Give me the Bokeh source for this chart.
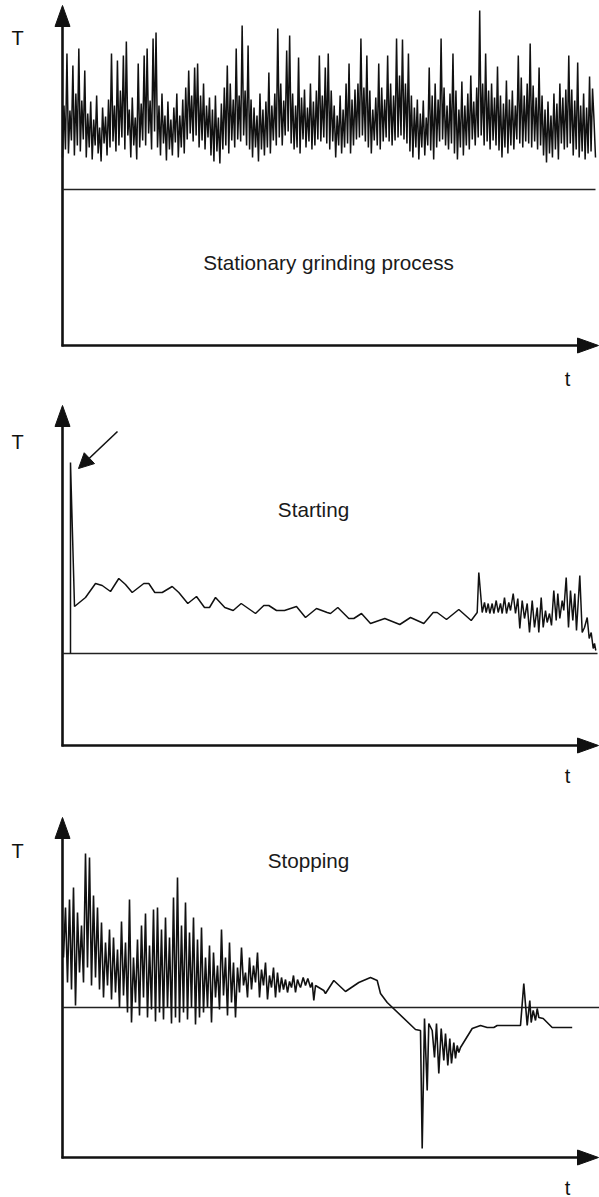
from bokeh.plotting import figure
from bokeh.layouts import column
from bokeh.models import Range1d, Arrow, NormalHead
from bokeh.core.properties import value
from bokeh.embed import file_html
from bokeh.resources import INLINE

# ---------------- data (t, T in arbitrary units, x-axis at T=0) ----------------
# Panel 1: stationary grinding process (uniformly sampled)
p1_dt = 533 / 359
p1_T = [
    188, 240, 196, 292, 192, 235, 205, 280, 190, 252, 200, 297, 194, 245, 206, 275, 188, 232, 198, 244,
    186, 226, 200, 250, 192, 218, 184, 238, 202, 229, 190, 246, 198, 292, 204, 240, 194, 285, 200, 255,
    208, 290, 196, 304, 210, 236, 188, 248, 200, 228, 186, 282, 198, 242, 205, 290, 200, 297, 212, 245,
    196, 307, 214, 313, 198, 240, 190, 252, 202, 230, 185, 244, 196, 226, 190, 238, 203, 252, 188, 230,
    198, 246, 192, 258, 206, 275, 212, 250, 204, 278, 210, 282, 198, 250, 205, 262, 196, 240, 208, 248,
    190, 236, 184, 250, 194, 228, 182, 242, 196, 258, 200, 280, 192, 262, 205, 246, 198, 297, 206, 250,
    204, 320, 210, 255, 200, 300, 196, 246, 188, 238, 198, 230, 184, 252, 196, 236, 190, 244, 198, 273,
    192, 240, 205, 252, 200, 317, 208, 262, 200, 245, 210, 295, 214, 310, 202, 252, 196, 240, 198, 288,
    192, 248, 206, 256, 198, 238, 204, 262, 196, 244, 200, 255, 206, 290, 204, 250, 208, 278, 202, 292,
    196, 255, 204, 240, 188, 230, 200, 250, 192, 236, 198, 262, 202, 282, 192, 246, 200, 256, 206, 262,
    208, 307, 210, 258, 204, 290, 198, 255, 192, 236, 205, 248, 200, 282, 196, 258, 204, 246, 208, 290,
    204, 262, 200, 250, 205, 307, 208, 270, 210, 306, 206, 262, 202, 292, 194, 250, 188, 238, 198, 246,
    186, 232, 198, 245, 190, 228, 200, 278, 195, 250, 186, 262, 198, 246, 204, 307, 206, 258, 200, 240,
    196, 252, 202, 292, 192, 255, 186, 236, 198, 264, 190, 240, 200, 252, 196, 270, 206, 244, 200, 258,
    208, 335, 210, 262, 200, 292, 204, 255, 196, 262, 205, 248, 200, 279, 195, 250, 188, 242, 198, 265,
    192, 246, 200, 255, 196, 240, 206, 290, 202, 268, 198, 250, 204, 262, 202, 302, 198, 260, 204, 248,
    196, 278, 200, 250, 190, 236, 183, 244, 192, 230, 188, 252, 196, 242, 186, 262, 202, 248, 196, 256,
    198, 290, 202, 256, 190, 245, 196, 283, 188, 240, 194, 252, 186, 238, 192, 269, 194, 257, 225, 188,
]
p1_ref = 156

# Panel 2: starting
p2_t = [8, 8, 12, 23, 33, 39.7, 48, 56.3, 63, 69.7, 81.3, 86.3, 92.3, 99.7, 109.7,
        116.3, 125.3, 134, 142, 147, 153, 162.3, 170.7, 178.7, 193, 201.3, 206.3,
        214, 222, 234, 243, 254, 264.7, 268, 275.3, 286.3, 291.3, 299, 308, 322.3,
        337.3, 348, 361.3, 370.7, 374.7, 384, 396.3, 408.7, 414.7, 416.3, 419.7,
        422, 423.7, 425.7, 427.3, 429.7, 431.3, 433.7, 435.7, 438, 439.7, 442, 444,
        446.3, 448, 450.7, 453, 455.3, 457.3, 459.7, 462, 464.7, 467, 469.7, 472,
        474.7, 476.3, 478.7, 480.7, 483, 484.7, 487, 489, 491.3, 493.7, 495.3,
        497.3, 499.7, 501.3, 503.7, 506, 508, 510.3, 512.3, 514, 517.3, 519.7, 522,
        524.7, 526.7, 528.7, 530.7, 532, 533.3]
p2_T = [92, 283, 139, 148, 162, 160, 154, 167, 161, 153, 162, 162, 153, 153, 159,
        153, 142, 149, 138, 138, 148, 138, 135, 142, 132, 140, 140,
        135, 135, 139, 128, 137, 133, 132, 138, 127, 127, 132, 122, 127,
        121, 128, 122, 133, 133, 126, 136, 125, 133, 173, 133,
        143, 133, 142, 132, 142, 132, 145, 133, 142, 132, 148, 132,
        143, 135, 152, 132, 147, 117, 145, 127, 142, 113, 145, 118,
        138, 113, 148, 118, 135, 123, 132, 120, 155, 125, 152,
        127, 145, 135, 168, 118, 155, 125, 152, 115, 170, 113, 118,
        128, 107, 113, 97, 102, 95]
p2_ref = 92

# Panel 3: stopping
p3a_t0 = 1
p3a_dt = 2
p3a_T = [
    200, 250, 175, 258, 168, 270, 152, 245, 185, 232,
    175, 304, 190, 300, 172, 262, 180, 250, 168, 235,
    160, 215, 172, 228, 158, 220, 165, 208, 150, 236,
    162, 215, 145, 258, 135, 200, 155, 218, 142, 232,
    160, 244, 140, 212, 148, 248, 136, 250, 145, 228,
    138, 240, 150, 220, 134, 260, 140, 280, 135, 232,
    145, 255, 138, 225, 150, 240, 133, 218, 140, 230,
    145, 200, 150, 212, 135, 205, 160, 192, 148, 228,
    162, 200, 142, 215, 155, 195, 140, 190, 165, 210,
    172, 185, 160, 200, 168, 192, 175, 205, 160, 188,
    172, 195, 158, 182, 170, 190, 160, 185, 165, 180,
    168, 178, 165, 176, 170, 182, 165, 178, 172,
]
p3b_t = [238, 240.7, 243, 245.3, 248, 249.7, 251.3, 253, 256.3, 261.3, 263, 271.3,
         283, 296.3, 308, 314.7, 318, 324.7, 353, 358, 359.7, 362, 364.7, 366.3,
         369.7, 372, 374, 376.3, 378.7, 381.3, 383, 385.3, 387.3, 389, 391.3, 393,
         394.7, 396.3, 398, 409.7, 418, 424.7, 431.3, 434.7, 458, 461.3, 464.7,
         467.3, 468.7, 470.7, 473, 474.7, 476.3, 480.7, 489.7, 509.7]
p3b_T = [170, 180, 172, 179, 170, 175, 157, 172, 170, 167, 164, 177,
         166, 175, 180, 177, 164, 155, 128, 127, 9, 139, 67, 134,
         127, 100, 134, 84, 129, 97, 124, 92, 119, 94, 115, 99,
         112, 105, 110, 129, 132, 130, 130, 132, 132, 174, 132,
         157, 135, 147, 137, 149, 140, 139, 130, 130]
p3_ref = 150

axis_len_t = 536          # x-axis arrow tip
axis_len_T = 340          # y-axis arrow tip
titles = ["Stationary grinding process", "Starting", "Stopping"]
title_pos = [(266, 83), (251, 236), (246, 297)]
T_label_pos = [308, 304, 307]
t_label_pos = [-33, -30, -30]
ref_len = [533, 535, 537]

# ---------------- layout ----------------
W = 599
x0_px = 62
fig_tops = [0, 392, 792]
fig_hs = [392, 400, 405]
axis_px_y = [345, 745, 1157]

FONT = value("Liberation Sans")
INK = "#111111"


def make_fig(i):
    ys = -(fig_tops[i] + fig_hs[i] - axis_px_y[i])
    p = figure(width=W, height=fig_hs[i],
               x_range=Range1d(-x0_px, W - x0_px),
               y_range=Range1d(ys, ys + fig_hs[i]),
               output_backend="svg", toolbar_location=None,
               x_axis_location=None, y_axis_location=None, min_border=0)
    p.grid.visible = False
    p.outline_line_color = None
    p.background_fill_color = "white"
    p.border_fill_color = "white"
    # axes with arrowheads
    head_l, head_w = 21, 7.5
    p.line([0, 0], [-1, axis_len_T - head_l + 2], line_color=INK, line_width=2.6)
    p.line([-1, axis_len_t - head_l + 2], [0, 0], line_color=INK, line_width=2.6)
    p.patch([-head_w, head_w, 0], [axis_len_T - head_l, axis_len_T - head_l, axis_len_T],
            fill_color=INK, line_color=INK, line_width=1)
    p.patch([axis_len_t - head_l, axis_len_t - head_l, axis_len_t], [-head_w, head_w, 0],
            fill_color=INK, line_color=INK, line_width=1)
    # labels
    p.text(x=[-45], y=[T_label_pos[i]], text=["T"], text_font=FONT, text_font_size="20px",
           text_align="center", text_baseline="middle", text_color=INK)
    p.text(x=[505], y=[t_label_pos[i]], text=["t"], text_font=FONT, text_font_size="20px",
           text_align="center", text_baseline="middle", text_color=INK)
    p.text(x=[title_pos[i][0]], y=[title_pos[i][1]], text=[titles[i]], text_font=FONT,
           text_font_size="20.7px", text_align="center", text_baseline="middle",
           text_color="#1a1a1a")
    return p


# Panel 1
f1 = make_fig(0)
f1.line([0, ref_len[0]], [p1_ref, p1_ref], line_color="#222222", line_width=1.3)
f1.line([i * p1_dt for i in range(len(p1_T))], p1_T, line_color=INK, line_width=1.5)

# Panel 2
f2 = make_fig(1)
f2.line([0, ref_len[1]], [p2_ref, p2_ref], line_color="#222222", line_width=1.3)
f2.line(p2_t, p2_T, line_color=INK, line_width=1.5)
f2.add_layout(Arrow(end=NormalHead(size=15, fill_color=INK, line_color=INK),
                    x_start=55, y_start=314, x_end=16, y_end=277,
                    line_color=INK, line_width=1.6))

# Panel 3
f3 = make_fig(2)
f3.line([0, ref_len[2]], [p3_ref, p3_ref], line_color="#222222", line_width=1.3)
p3_t = [p3a_t0 + i * p3a_dt for i in range(len(p3a_T))] + p3b_t
p3_T = p3a_T + p3b_T
f3.line(p3_t, p3_T, line_color=INK, line_width=1.6)

layout = column(f1, f2, f3, spacing=0)
open("out.html", "w").write(file_html(layout, INLINE))
